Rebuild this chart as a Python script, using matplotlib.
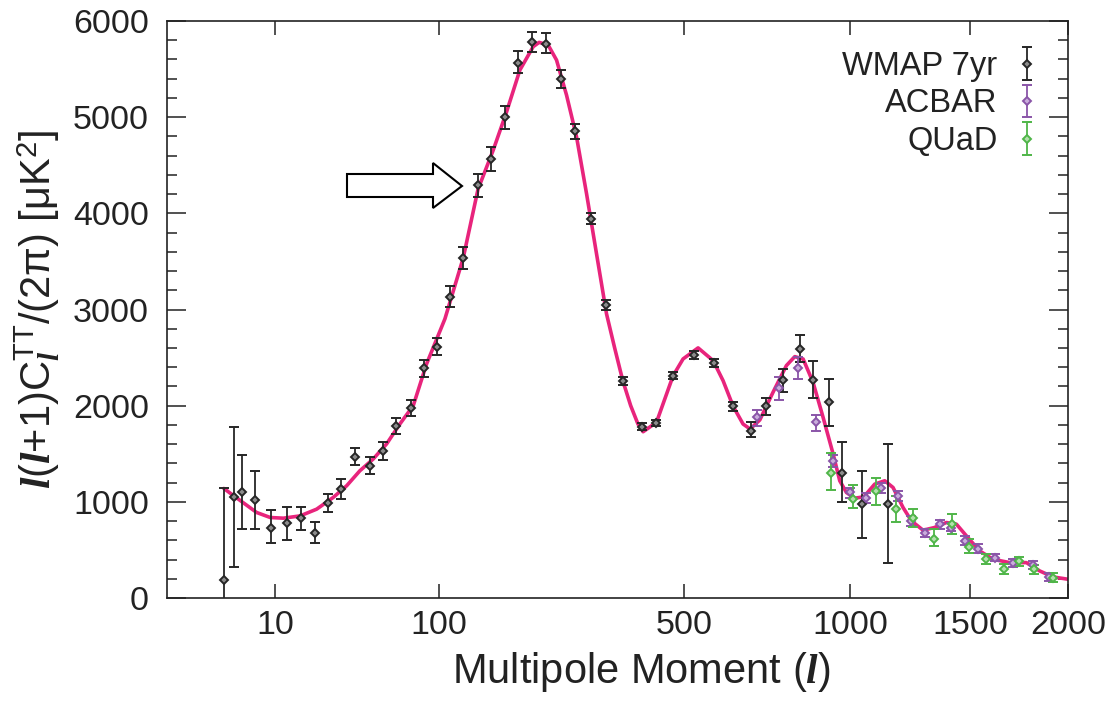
import numpy as np
import matplotlib
matplotlib.use("Agg")
import matplotlib.pyplot as plt
from matplotlib.patches import Polygon
from matplotlib.ticker import FixedLocator, MultipleLocator

plt.rcParams['font.family'] = ['Liberation Sans', 'DejaVu Sans']
plt.rcParams['mathtext.fontset'] = 'custom'
plt.rcParams['mathtext.rm'] = 'Liberation Sans'
plt.rcParams['mathtext.it'] = 'Liberation Serif:italic:bold'
plt.rcParams['mathtext.bf'] = 'Liberation Sans:bold'

# ---------------- data ----------------
wmap_l = [2, 3, 4, 6, 9, 13, 17, 22, 27, 33, 40, 48, 56, 65, 76, 87, 98, 111, 124, 140,
          155, 172, 190, 209, 230, 253, 276, 303, 331, 364, 403, 433, 473, 524, 574,
          626, 676, 722, 773, 827, 871, 925, 972, 1047, 1146]
wmap_d = [190, 1052, 1104, 1017, 732, 785, 837, 680, 986, 1132, 1469, 1372, 1531, 1785,
          1976, 2392, 2615, 3135, 3538, 4292, 4569, 5003, 5566, 5778, 5760, 5392, 4854,
          3945, 3049, 2260, 1781, 1816, 2312, 2528, 2445, 1993, 1740, 2000, 2268, 2591,
          2268, 2034, 1305, 976, 982]
wmap_hi = [1140, 1774, 1486, 1323, 913, 948, 948, 795, 1080, 1236, 1555, 1469, 1625, 1872,
           2059, 2480, 2705, 3243, 3649, 4406, 4694, 5115, 5688, 5889, 5872, 5490, 4934,
           4003, 3100, 2300, 1820, 1850, 2350, 2565, 2485, 2040, 1826, 2080, 2382, 2736,
           2461, 2278, 1625, 1323, 1601]
wmap_lo = [-700, 323, 715, 715, 576, 604, 708, 576, 896, 1034, 1385, 1288, 1437, 1705,
           1896, 2300, 2525, 3024, 3424, 4170, 4440, 4882, 5455, 5674, 5663, 5299, 4771,
           3885, 3000, 2220, 1745, 1785, 2275, 2490, 2405, 1945, 1670, 1906, 2146, 2451,
           2080, 1792, 1000, 628, 368]

acbar_l = [693, 760, 821, 882, 940, 1000, 1062, 1120, 1184, 1241, 1297, 1362, 1414,
           1478, 1537, 1618, 1709, 1811, 1895]
acbar_d = [1878, 2184, 2389, 1826, 1427, 1104, 1045, 1142, 1062, 802, 680, 768, 732,
           594, 514, 420, 368, 340, 219]
acbar_hi = [1958, 2295, 2503, 1906, 1490, 1149, 1097, 1191, 1115, 854, 722, 809, 778,
            646, 559, 462, 403, 385, 264]
acbar_lo = [1792, 2062, 2278, 1740, 1360, 1045, 986, 1091, 1010, 750, 639, 722, 698,
            549, 466, 385, 326, 299, 177]

quad_l = [931, 1011, 1098, 1176, 1248, 1336, 1417, 1495, 1577, 1662, 1739, 1815, 1918]
quad_d = [1305, 1028, 1115, 924, 837, 618, 768, 534, 409, 299, 385, 299, 212]
quad_hi = [1503, 1177, 1247, 1062, 930, 715, 878, 611, 462, 351, 427, 344, 255]
quad_lo = [1122, 941, 969, 795, 743, 542, 663, 472, 357, 247, 333, 253, 170]

model_l = [2, 3, 6.25, 8.9, 12, 16.8, 22.5, 29.2, 35.5, 42.4, 50.1, 58.6, 67.9, 78.1,
           89.1, 105.7, 124, 140, 157.7, 174.4, 192, 210.6, 219.3, 232.8, 245.8, 261.9,
           278.6, 295.9, 313.8, 332.4, 348, 364, 380, 395, 406, 435, 473, 496.6, 533.5,
           572, 598.5, 626, 653.7, 674, 702.2, 742, 783.7, 810.4, 837.5, 870.7, 905, 940,
           963.5, 987.6, 1018, 1052, 1093.6, 1132.8, 1165.8, 1206.4, 1241, 1290, 1338,
           1392, 1437, 1483, 1545, 1609, 1692, 1777, 1847, 1918, 2000]
model_d = [1139, 1062, 889, 837, 830, 854, 924, 1045, 1167, 1323, 1445, 1601, 1809, 2000,
           2434, 2903, 3538, 4250, 4656, 5055, 5490, 5733, 5778, 5750, 5594, 5229,
           4795, 4205, 3580, 2955, 2600, 2260, 2000, 1810, 1729, 1826, 2312, 2486, 2601,
           2469, 2260, 1993, 1809, 1757, 1851, 2139, 2417, 2510, 2486, 2243, 1878, 1497,
           1219, 1097, 1038, 1052, 1184, 1219, 1149, 941, 802, 705, 732,
           785, 768, 646, 490, 403, 368, 368, 281, 219, 195]

x_ticks = [10, 100, 500, 1000, 1500, 2000]

# ---------------- figure ----------------
W, H = 1111, 702
fig = plt.figure(figsize=(W / 100, H / 100), dpi=100)
ax = fig.add_axes([167 / W, 1 - 598 / H, (1068 - 167) / W, (598 - 21) / H])

fwd = lambda x: np.power(np.clip(x, 0, None), 0.4)
inv = lambda x: np.power(np.clip(x, 0, None), 2.5)
ax.set_xscale('function', functions=(fwd, inv))
ax.set_xlim(0, 2000)
ax.set_ylim(0, 6000)

ax.plot(model_l, model_d, color='#e8247c', lw=2.6, zorder=2, solid_capstyle='round')

ekw = dict(fmt='D', ms=4.2, mew=1.4, elinewidth=1.3, capsize=3.3, capthick=1.3, zorder=3)
wm = ax.errorbar(wmap_l, wmap_d,
                 yerr=[np.array(wmap_d) - np.array(wmap_lo), np.array(wmap_hi) - np.array(wmap_d)],
                 color='#262626', mfc='#8c8c8c', label='WMAP 7yr', **ekw)
ac = ax.errorbar(acbar_l, acbar_d,
                 yerr=[np.array(acbar_d) - np.array(acbar_lo), np.array(acbar_hi) - np.array(acbar_d)],
                 color='#8a55a8', mfc='#c9addb', label='ACBAR', **ekw)
qd = ax.errorbar(quad_l, quad_d,
                 yerr=[np.array(quad_d) - np.array(quad_lo), np.array(quad_hi) - np.array(quad_d)],
                 color='#4fb548', mfc='#b3e0ad', label='QUaD', **ekw)

ax.xaxis.set_major_locator(FixedLocator(x_ticks))
ax.set_xticklabels([str(t) for t in x_ticks])
ax.xaxis.set_minor_locator(FixedLocator([]))
ax.yaxis.set_major_locator(MultipleLocator(1000))
ax.yaxis.set_minor_locator(MultipleLocator(200))

ax.tick_params(axis='both', which='both', direction='in', top=True, right=True,
               colors='#222222', labelsize=24.5, width=1.1)
ax.tick_params(axis='x', which='major', length=10, pad=9)
ax.tick_params(axis='y', which='major', length=14, pad=13)
ax.tick_params(axis='y', which='minor', length=7)
for s in ax.spines.values():
    s.set_linewidth(1.2)
    s.set_color('#222222')

ax.set_xlabel(r'Multipole Moment ($\mathit{l}$)', fontsize=30, color='#222222', labelpad=6)
ax.xaxis.label.set_x((641 - 167) / 901)
ax.set_ylabel(r'$\mathit{l}(\mathit{l}$+1)C$_{\mathit{l}}^{\mathrm{TT}}$/(2$\mathrm{\pi}$) [μK$^{2}$]',
              fontsize=30, color='#222222', labelpad=8)

leg = ax.legend(handles=[wm, ac, qd], loc='upper right', bbox_to_anchor=(0.987, 0.982),
                frameon=False, markerfirst=False, fontsize=23.5, handlelength=0.6,
                handletextpad=0.6, labelspacing=0.2, borderaxespad=0.2)
for t in leg.get_texts():
    t.set_color('#222222')

arrow_px = [(347, 174), (433, 174), (433, 163), (462, 186), (433, 208), (433, 197), (347, 197)]
poly = Polygon([(x / W, 1 - y / H) for x, y in arrow_px], closed=True, facecolor='white',
               edgecolor='black', lw=1.5, transform=fig.transFigure, zorder=5)
fig.patches.append(poly)

fig.savefig('out.png', dpi=100)
